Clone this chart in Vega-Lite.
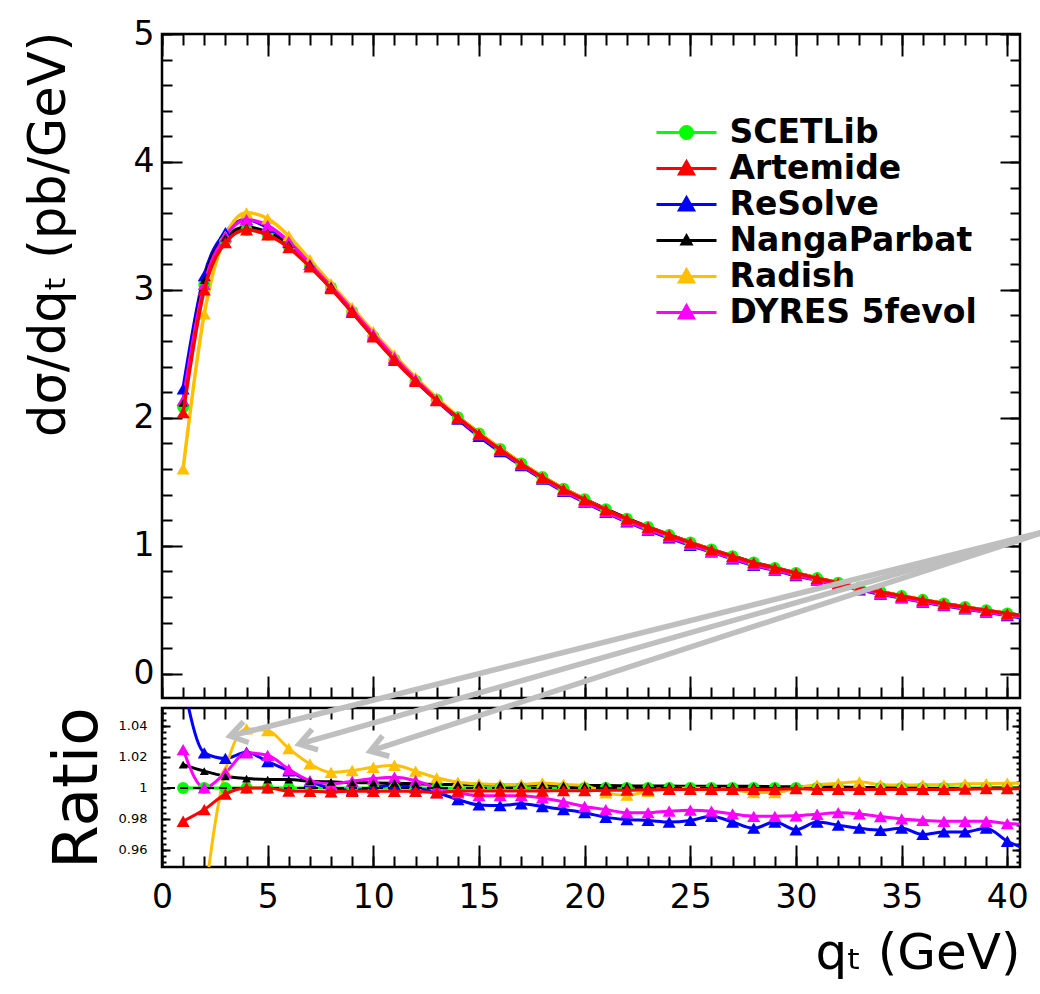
{
 "$schema": "https://vega.github.io/schema/vega-lite/v6.json",
 "background": "white",
 "padding": {"left": 21, "top": 16, "right": 0, "bottom": 0},
 "datasets": {
  "curves": [
   {"m":"SCETLib","q":1,"y":2.085,"r":1},{"m":"SCETLib","q":2,"y":3.043,"r":1},{"m":"SCETLib","q":3,"y":3.383,"r":1},{"m":"SCETLib","q":4,"y":3.47,"r":1},{"m":"SCETLib","q":5,"y":3.43,"r":1},{"m":"SCETLib","q":6,"y":3.337,"r":1},{"m":"SCETLib","q":7,"y":3.187,"r":1},{"m":"SCETLib","q":8,"y":3.018,"r":1},{"m":"SCETLib","q":9,"y":2.83,"r":1},{"m":"SCETLib","q":10,"y":2.638,"r":1},{"m":"SCETLib","q":11,"y":2.455,"r":1},{"m":"SCETLib","q":12,"y":2.29,"r":1},{"m":"SCETLib","q":13,"y":2.142,"r":1},{"m":"SCETLib","q":14,"y":2.005,"r":1},{"m":"SCETLib","q":15,"y":1.877,"r":1},{"m":"SCETLib","q":16,"y":1.756,"r":1},{"m":"SCETLib","q":17,"y":1.643,"r":1},{"m":"SCETLib","q":18,"y":1.538,"r":1},{"m":"SCETLib","q":19,"y":1.445,"r":1},{"m":"SCETLib","q":20,"y":1.363,"r":1},{"m":"SCETLib","q":21,"y":1.285,"r":1},{"m":"SCETLib","q":22,"y":1.212,"r":1},{"m":"SCETLib","q":23,"y":1.146,"r":1},{"m":"SCETLib","q":24,"y":1.085,"r":1},{"m":"SCETLib","q":25,"y":1.026,"r":1},{"m":"SCETLib","q":26,"y":0.97,"r":1},{"m":"SCETLib","q":27,"y":0.918,"r":1},{"m":"SCETLib","q":28,"y":0.869,"r":1},{"m":"SCETLib","q":29,"y":0.827,"r":1},{"m":"SCETLib","q":30,"y":0.787,"r":1},{"m":"SCETLib","q":31,"y":0.747,"r":1},{"m":"SCETLib","q":32,"y":0.71,"r":1},{"m":"SCETLib","q":33,"y":0.674,"r":1},{"m":"SCETLib","q":34,"y":0.64,"r":1},{"m":"SCETLib","q":35,"y":0.608,"r":1},{"m":"SCETLib","q":36,"y":0.577,"r":1},{"m":"SCETLib","q":37,"y":0.548,"r":1},{"m":"SCETLib","q":38,"y":0.521,"r":1},{"m":"SCETLib","q":39,"y":0.495,"r":1},{"m":"SCETLib","q":40,"y":0.47,"r":1},{"m":"SCETLib","q":41,"y":0.447,"r":1},
   {"m":"ReSolve","q":1,"y":2.227,"r":1.068},{"m":"ReSolve","q":2,"y":3.112,"r":1.0226},{"m":"ReSolve","q":3,"y":3.447,"r":1.019},{"m":"ReSolve","q":4,"y":3.55,"r":1.023},{"m":"ReSolve","q":5,"y":3.488,"r":1.017},{"m":"ReSolve","q":6,"y":3.374,"r":1.011},{"m":"ReSolve","q":7,"y":3.2,"r":1.004},{"m":"ReSolve","q":8,"y":3.018,"r":1.0},{"m":"ReSolve","q":9,"y":2.826,"r":0.9985},{"m":"ReSolve","q":10,"y":2.638,"r":1.0},{"m":"ReSolve","q":11,"y":2.46,"r":1.002},{"m":"ReSolve","q":12,"y":2.29,"r":1.0},{"m":"ReSolve","q":13,"y":2.136,"r":0.997},{"m":"ReSolve","q":14,"y":1.99,"r":0.9925},{"m":"ReSolve","q":15,"y":1.856,"r":0.989},{"m":"ReSolve","q":16,"y":1.736,"r":0.9886},{"m":"ReSolve","q":17,"y":1.626,"r":0.9897},{"m":"ReSolve","q":18,"y":1.52,"r":0.988},{"m":"ReSolve","q":19,"y":1.425,"r":0.986},{"m":"ReSolve","q":20,"y":1.341,"r":0.984},{"m":"ReSolve","q":21,"y":1.261,"r":0.981},{"m":"ReSolve","q":22,"y":1.187,"r":0.9796},{"m":"ReSolve","q":23,"y":1.122,"r":0.979},{"m":"ReSolve","q":24,"y":1.061,"r":0.978},{"m":"ReSolve","q":25,"y":1.004,"r":0.979},{"m":"ReSolve","q":26,"y":0.952,"r":0.9817},{"m":"ReSolve","q":27,"y":0.898,"r":0.978},{"m":"ReSolve","q":28,"y":0.846,"r":0.974},{"m":"ReSolve","q":29,"y":0.809,"r":0.978},{"m":"ReSolve","q":30,"y":0.766,"r":0.973},{"m":"ReSolve","q":31,"y":0.731,"r":0.978},{"m":"ReSolve","q":32,"y":0.693,"r":0.976},{"m":"ReSolve","q":33,"y":0.656,"r":0.974},{"m":"ReSolve","q":34,"y":0.623,"r":0.9727},{"m":"ReSolve","q":35,"y":0.592,"r":0.974},{"m":"ReSolve","q":36,"y":0.56,"r":0.97},{"m":"ReSolve","q":37,"y":0.532,"r":0.9716},{"m":"ReSolve","q":38,"y":0.506,"r":0.9716},{"m":"ReSolve","q":39,"y":0.482,"r":0.974},{"m":"ReSolve","q":40,"y":0.454,"r":0.9656},{"m":"ReSolve","q":41,"y":0.429,"r":0.96},
   {"m":"NangaParbat","q":1,"y":2.116,"r":1.015},{"m":"NangaParbat","q":2,"y":3.076,"r":1.0108},{"m":"NangaParbat","q":3,"y":3.408,"r":1.0075},{"m":"NangaParbat","q":4,"y":3.491,"r":1.006},{"m":"NangaParbat","q":5,"y":3.449,"r":1.0054},{"m":"NangaParbat","q":6,"y":3.355,"r":1.0054},{"m":"NangaParbat","q":7,"y":3.201,"r":1.0043},{"m":"NangaParbat","q":8,"y":3.03,"r":1.0039},{"m":"NangaParbat","q":9,"y":2.84,"r":1.0034},{"m":"NangaParbat","q":10,"y":2.646,"r":1.0032},{"m":"NangaParbat","q":11,"y":2.462,"r":1.003},{"m":"NangaParbat","q":12,"y":2.296,"r":1.0026},{"m":"NangaParbat","q":13,"y":2.147,"r":1.0022},{"m":"NangaParbat","q":14,"y":2.009,"r":1.0022},{"m":"NangaParbat","q":15,"y":1.881,"r":1.002},{"m":"NangaParbat","q":16,"y":1.76,"r":1.002},{"m":"NangaParbat","q":17,"y":1.646,"r":1.0018},{"m":"NangaParbat","q":18,"y":1.541,"r":1.0018},{"m":"NangaParbat","q":19,"y":1.447,"r":1.0016},{"m":"NangaParbat","q":20,"y":1.365,"r":1.0015},{"m":"NangaParbat","q":21,"y":1.287,"r":1.0015},{"m":"NangaParbat","q":22,"y":1.214,"r":1.0013},{"m":"NangaParbat","q":23,"y":1.147,"r":1.0012},{"m":"NangaParbat","q":24,"y":1.086,"r":1.0012},{"m":"NangaParbat","q":25,"y":1.027,"r":1.001},{"m":"NangaParbat","q":26,"y":0.971,"r":1.001},{"m":"NangaParbat","q":27,"y":0.919,"r":1.001},{"m":"NangaParbat","q":28,"y":0.87,"r":1.001},{"m":"NangaParbat","q":29,"y":0.828,"r":1.0008},{"m":"NangaParbat","q":30,"y":0.788,"r":1.0008},{"m":"NangaParbat","q":31,"y":0.747,"r":1.0005},{"m":"NangaParbat","q":32,"y":0.71,"r":1.0005},{"m":"NangaParbat","q":33,"y":0.674,"r":1.0003},{"m":"NangaParbat","q":34,"y":0.64,"r":1.0003},{"m":"NangaParbat","q":35,"y":0.608,"r":1.0},{"m":"NangaParbat","q":36,"y":0.577,"r":0.9998},{"m":"NangaParbat","q":37,"y":0.548,"r":0.9995},{"m":"NangaParbat","q":38,"y":0.521,"r":0.9995},{"m":"NangaParbat","q":39,"y":0.495,"r":0.9998},{"m":"NangaParbat","q":40,"y":0.47,"r":1.0},{"m":"NangaParbat","q":41,"y":0.447,"r":1.0},
   {"m":"Radish","q":1,"y":1.601,"r":0.768},{"m":"Radish","q":2,"y":2.812,"r":0.924},{"m":"Radish","q":3,"y":3.42,"r":1.011},{"m":"Radish","q":4,"y":3.602,"r":1.038},{"m":"Radish","q":5,"y":3.557,"r":1.037},{"m":"Radish","q":6,"y":3.422,"r":1.0254},{"m":"Radish","q":7,"y":3.236,"r":1.0155},{"m":"Radish","q":8,"y":3.048,"r":1.01},{"m":"Radish","q":9,"y":2.862,"r":1.0112},{"m":"Radish","q":10,"y":2.673,"r":1.0133},{"m":"Radish","q":11,"y":2.491,"r":1.0146},{"m":"Radish","q":12,"y":2.315,"r":1.0108},{"m":"Radish","q":13,"y":2.156,"r":1.0065},{"m":"Radish","q":14,"y":2.012,"r":1.0037},{"m":"Radish","q":15,"y":1.882,"r":1.0026},{"m":"Radish","q":16,"y":1.76,"r":1.0022},{"m":"Radish","q":17,"y":1.647,"r":1.0022},{"m":"Radish","q":18,"y":1.543,"r":1.0032},{"m":"Radish","q":19,"y":1.448,"r":1.0022},{"m":"Radish","q":20,"y":1.365,"r":1.0015},{"m":"Radish","q":21,"y":1.281,"r":0.9968},{"m":"Radish","q":22,"y":1.206,"r":0.9953},{"m":"Radish","q":23,"y":1.143,"r":0.9978},{"m":"Radish","q":24,"y":1.084,"r":0.9995},{"m":"Radish","q":25,"y":1.026,"r":1.0},{"m":"Radish","q":26,"y":0.97,"r":0.9995},{"m":"Radish","q":27,"y":0.917,"r":0.999},{"m":"Radish","q":28,"y":0.866,"r":0.997},{"m":"Radish","q":29,"y":0.825,"r":0.997},{"m":"Radish","q":30,"y":0.787,"r":1.0},{"m":"Radish","q":31,"y":0.749,"r":1.002},{"m":"Radish","q":32,"y":0.712,"r":1.003},{"m":"Radish","q":33,"y":0.677,"r":1.0039},{"m":"Radish","q":34,"y":0.641,"r":1.002},{"m":"Radish","q":35,"y":0.609,"r":1.0018},{"m":"Radish","q":36,"y":0.578,"r":1.002},{"m":"Radish","q":37,"y":0.549,"r":1.002},{"m":"Radish","q":38,"y":0.522,"r":1.0026},{"m":"Radish","q":39,"y":0.496,"r":1.0028},{"m":"Radish","q":40,"y":0.471,"r":1.003},{"m":"Radish","q":41,"y":0.448,"r":1.003},
   {"m":"DYRES 5fevol","q":1,"y":2.137,"r":1.0247},{"m":"DYRES 5fevol","q":2,"y":3.043,"r":1.0},{"m":"DYRES 5fevol","q":3,"y":3.416,"r":1.0097},{"m":"DYRES 5fevol","q":4,"y":3.548,"r":1.0226},{"m":"DYRES 5fevol","q":5,"y":3.502,"r":1.021},{"m":"DYRES 5fevol","q":6,"y":3.377,"r":1.012},{"m":"DYRES 5fevol","q":7,"y":3.202,"r":1.0047},{"m":"DYRES 5fevol","q":8,"y":3.026,"r":1.0026},{"m":"DYRES 5fevol","q":9,"y":2.842,"r":1.0043},{"m":"DYRES 5fevol","q":10,"y":2.654,"r":1.006},{"m":"DYRES 5fevol","q":11,"y":2.472,"r":1.0069},{"m":"DYRES 5fevol","q":12,"y":2.301,"r":1.0047},{"m":"DYRES 5fevol","q":13,"y":2.142,"r":1.0},{"m":"DYRES 5fevol","q":14,"y":1.999,"r":0.9968},{"m":"DYRES 5fevol","q":15,"y":1.868,"r":0.995},{"m":"DYRES 5fevol","q":16,"y":1.747,"r":0.995},{"m":"DYRES 5fevol","q":17,"y":1.635,"r":0.995},{"m":"DYRES 5fevol","q":18,"y":1.528,"r":0.9935},{"m":"DYRES 5fevol","q":19,"y":1.432,"r":0.991},{"m":"DYRES 5fevol","q":20,"y":1.347,"r":0.988},{"m":"DYRES 5fevol","q":21,"y":1.267,"r":0.986},{"m":"DYRES 5fevol","q":22,"y":1.193,"r":0.984},{"m":"DYRES 5fevol","q":23,"y":1.128,"r":0.984},{"m":"DYRES 5fevol","q":24,"y":1.069,"r":0.985},{"m":"DYRES 5fevol","q":25,"y":1.011,"r":0.9856},{"m":"DYRES 5fevol","q":26,"y":0.955,"r":0.985},{"m":"DYRES 5fevol","q":27,"y":0.903,"r":0.9832},{"m":"DYRES 5fevol","q":28,"y":0.853,"r":0.9817},{"m":"DYRES 5fevol","q":29,"y":0.812,"r":0.9817},{"m":"DYRES 5fevol","q":30,"y":0.773,"r":0.982},{"m":"DYRES 5fevol","q":31,"y":0.734,"r":0.983},{"m":"DYRES 5fevol","q":32,"y":0.699,"r":0.984},{"m":"DYRES 5fevol","q":33,"y":0.663,"r":0.9832},{"m":"DYRES 5fevol","q":34,"y":0.628,"r":0.9815},{"m":"DYRES 5fevol","q":35,"y":0.596,"r":0.98},{"m":"DYRES 5fevol","q":36,"y":0.565,"r":0.979},{"m":"DYRES 5fevol","q":37,"y":0.536,"r":0.9785},{"m":"DYRES 5fevol","q":38,"y":0.51,"r":0.9785},{"m":"DYRES 5fevol","q":39,"y":0.484,"r":0.9785},{"m":"DYRES 5fevol","q":40,"y":0.459,"r":0.977},{"m":"DYRES 5fevol","q":41,"y":0.436,"r":0.9765},
   {"m":"Artemide","q":1,"y":2.04,"r":0.9785},{"m":"Artemide","q":2,"y":3.0,"r":0.986},{"m":"Artemide","q":3,"y":3.369,"r":0.996},{"m":"Artemide","q":4,"y":3.47,"r":1.0},{"m":"Artemide","q":5,"y":3.43,"r":1.0},{"m":"Artemide","q":6,"y":3.33,"r":0.998},{"m":"Artemide","q":7,"y":3.18,"r":0.9978},{"m":"Artemide","q":8,"y":3.01,"r":0.9975},{"m":"Artemide","q":9,"y":2.824,"r":0.9978},{"m":"Artemide","q":10,"y":2.632,"r":0.9978},{"m":"Artemide","q":11,"y":2.45,"r":0.9978},{"m":"Artemide","q":12,"y":2.285,"r":0.9978},{"m":"Artemide","q":13,"y":2.135,"r":0.9968},{"m":"Artemide","q":14,"y":2.001,"r":0.998},{"m":"Artemide","q":15,"y":1.873,"r":0.998},{"m":"Artemide","q":16,"y":1.752,"r":0.998},{"m":"Artemide","q":17,"y":1.64,"r":0.998},{"m":"Artemide","q":18,"y":1.535,"r":0.998},{"m":"Artemide","q":19,"y":1.442,"r":0.9982},{"m":"Artemide","q":20,"y":1.361,"r":0.9982},{"m":"Artemide","q":21,"y":1.283,"r":0.9985},{"m":"Artemide","q":22,"y":1.21,"r":0.9985},{"m":"Artemide","q":23,"y":1.145,"r":0.9988},{"m":"Artemide","q":24,"y":1.084,"r":0.999},{"m":"Artemide","q":25,"y":1.025,"r":0.999},{"m":"Artemide","q":26,"y":0.969,"r":0.999},{"m":"Artemide","q":27,"y":0.917,"r":0.999},{"m":"Artemide","q":28,"y":0.868,"r":0.999},{"m":"Artemide","q":29,"y":0.826,"r":0.999},{"m":"Artemide","q":30,"y":0.787,"r":0.9995},{"m":"Artemide","q":31,"y":0.746,"r":0.999},{"m":"Artemide","q":32,"y":0.709,"r":0.999},{"m":"Artemide","q":33,"y":0.673,"r":0.999},{"m":"Artemide","q":34,"y":0.639,"r":0.999},{"m":"Artemide","q":35,"y":0.607,"r":0.999},{"m":"Artemide","q":36,"y":0.576,"r":0.999},{"m":"Artemide","q":37,"y":0.547,"r":0.999},{"m":"Artemide","q":38,"y":0.521,"r":0.9992},{"m":"Artemide","q":39,"y":0.495,"r":0.9995},{"m":"Artemide","q":40,"y":0.47,"r":0.9995},{"m":"Artemide","q":41,"y":0.447,"r":0.9995}
  ],
  "shafts": [
   {"a":1,"q":41.9,"r":1.1656,"q2":3.22,"r2":1.0334},
   {"a":2,"q":41.9,"r":1.1656,"q2":6.49,"r2":1.0282},
   {"a":3,"q":41.9,"r":1.1656,"q2":9.85,"r2":1.0237}
  ],
  "heads": [
   {"a":1,"q":3.22,"r":1.0334},
   {"a":2,"q":6.49,"r":1.0282},
   {"a":3,"q":9.85,"r":1.0237}
  ],
  "unity": [{"r":1}]
 },
 "vconcat": [
  {
   "width": 858,
   "height": 664,
   "data": {"name": "curves"},
   "resolve": {"axis": {"x": "independent", "y": "independent"}},
   "layer": [
    {
     "transform": [{"filter": "datum.m !== 'Artemide'"}],
     "mark": {"type": "line", "interpolate": "monotone", "strokeWidth": 3.5, "clip": true},
     "encoding": {
      "x": {"field": "q", "type": "quantitative", "scale": {"domain": [0, 40.6], "nice": false, "zero": false},
            "axis": {"orient": "bottom", "values": [0,5,10,15,20,25,30,35,40], "tickSize": -22, "labels": false, "title": null}},
      "y": {"field": "y", "type": "quantitative", "scale": {"domain": [-0.19, 5], "nice": false, "zero": false},
            "axis": {"orient": "left", "values": [0,1,2,3,4,5], "tickSize": -20, "labelFontSize": 33, "labelPadding": 28, "format": "~g",
                     "title": "dσ/dqₜ (pb/GeV)", "titleFontSize": 51, "titleX": -98, "titleY": -3, "titleAngle": -90, "titleAlign": "right", "titleBaseline": "alphabetic", "titleAnchor": null}},
      "color": {"field": "m", "type": "nominal",
                "scale": {"domain": ["SCETLib","Artemide","ReSolve","NangaParbat","Radish","DYRES 5fevol"], "range": ["#00ff00","#ff0000","#0000ff","#000000","#ffc000","#ff00ff"]},
                "legend": {"orient": "none", "legendX": 523, "legendY": 82, "title": null, "padding": 0, "labelFont": "DejaVu Sans", "labelFontWeight": "bold", "labelFontSize": 33, "labelColor": "black", "labelLimit": 0, "symbolSize": 900, "symbolStrokeWidth": 3, "rowPadding": 2, "labelOffset": 11.5,
                           "encode": {"symbols": {"update": {
                             "shape": {"signal": "datum.value === 'SCETLib' ? 'M-3,0L1,0M-0.6,0A0.4,0.4,0,1,1,-1.4,0A0.4,0.4,0,1,1,-0.6,0Z' : (datum.value === 'NangaParbat' ? 'M-3,0L1,0M-1,-0.3L-0.7,0.24L-1.3,0.24Z' : 'M-3,0L1,0M-1,-0.45L-0.53,0.37L-1.47,0.37Z')"},
                             "fill": {"scale": "color", "field": "value"},
                             "stroke": {"scale": "color", "field": "value"},
                             "strokeWidth": {"value": 3},
                             "opacity": {"value": 1},
                             "fillOpacity": {"value": 1},
                             "strokeOpacity": {"value": 1},
                             "size": {"value": 900}}}}}}
     }
    },
    {
     "transform": [{"filter": "datum.m === 'SCETLib'"}],
     "mark": {"type": "point", "shape": "circle", "filled": true, "size": 144, "opacity": 1, "clip": true},
     "encoding": {
      "x": {"field": "q", "type": "quantitative", "scale": {"domain": [0, 40.6], "nice": false, "zero": false},
            "axis": {"orient": "bottom", "values": [0,1,2,3,4,5,6,7,8,9,10,11,12,13,14,15,16,17,18,19,20,21,22,23,24,25,26,27,28,29,30,31,32,33,34,35,36,37,38,39,40], "tickSize": -11, "labels": false, "title": null}},
      "y": {"field": "y", "type": "quantitative", "scale": {"domain": [-0.19, 5], "nice": false, "zero": false},
            "axis": {"orient": "left", "values": [0,0.2,0.4,0.6,0.8,1,1.2,1.4,1.6,1.8,2,2.2,2.4,2.6,2.8,3,3.2,3.4,3.6,3.8,4,4.2,4.4,4.6,4.8,5], "tickSize": -10, "labels": false, "title": null}},
      "color": {"field": "m", "type": "nominal",
                "scale": {"domain": ["SCETLib","Artemide","ReSolve","NangaParbat","Radish","DYRES 5fevol"], "range": ["#00ff00","#ff0000","#0000ff","#000000","#ffc000","#ff00ff"]}}
     }
    },
    {
     "transform": [{"filter": "datum.m === 'ReSolve' || datum.m === 'Radish' || datum.m === 'DYRES 5fevol'"}],
     "mark": {"type": "point", "shape": "triangle-up", "filled": true, "size": 170, "opacity": 1, "clip": true},
     "encoding": {
      "x": {"field": "q", "type": "quantitative", "scale": {"domain": [0, 40.6], "nice": false, "zero": false},
            "axis": {"orient": "top", "values": [0,5,10,15,20,25,30,35,40], "tickSize": -22, "labels": false, "title": null}},
      "y": {"field": "y", "type": "quantitative", "scale": {"domain": [-0.19, 5], "nice": false, "zero": false},
            "axis": {"orient": "right", "values": [0,1,2,3,4,5], "tickSize": -20, "labels": false, "title": null}},
      "color": {"field": "m", "type": "nominal",
                "scale": {"domain": ["SCETLib","Artemide","ReSolve","NangaParbat","Radish","DYRES 5fevol"], "range": ["#00ff00","#ff0000","#0000ff","#000000","#ffc000","#ff00ff"]}}
     }
    },
    {
     "transform": [{"filter": "datum.m === 'NangaParbat'"}],
     "mark": {"type": "point", "shape": "triangle-up", "filled": true, "size": 80, "opacity": 1, "clip": true},
     "encoding": {
      "x": {"field": "q", "type": "quantitative", "scale": {"domain": [0, 40.6], "nice": false, "zero": false},
            "axis": {"orient": "top", "values": [0,1,2,3,4,5,6,7,8,9,10,11,12,13,14,15,16,17,18,19,20,21,22,23,24,25,26,27,28,29,30,31,32,33,34,35,36,37,38,39,40], "tickSize": -11, "labels": false, "title": null}},
      "y": {"field": "y", "type": "quantitative", "scale": {"domain": [-0.19, 5], "nice": false, "zero": false},
            "axis": {"orient": "right", "values": [0,0.2,0.4,0.6,0.8,1,1.2,1.4,1.6,1.8,2,2.2,2.4,2.6,2.8,3,3.2,3.4,3.6,3.8,4,4.2,4.4,4.6,4.8,5], "tickSize": -10, "labels": false, "title": null}},
      "color": {"field": "m", "type": "nominal",
                "scale": {"domain": ["SCETLib","Artemide","ReSolve","NangaParbat","Radish","DYRES 5fevol"], "range": ["#00ff00","#ff0000","#0000ff","#000000","#ffc000","#ff00ff"]}}
     }
    },
    {
     "transform": [{"filter": "datum.m === 'Artemide'"}],
     "mark": {"type": "line", "interpolate": "monotone", "strokeWidth": 3.5, "clip": true},
     "encoding": {
      "x": {"field": "q", "type": "quantitative", "scale": {"domain": [0, 40.6], "nice": false, "zero": false}, "axis": null},
      "y": {"field": "y", "type": "quantitative", "scale": {"domain": [-0.19, 5], "nice": false, "zero": false}, "axis": null},
      "color": {"field": "m", "type": "nominal",
                "scale": {"domain": ["SCETLib","Artemide","ReSolve","NangaParbat","Radish","DYRES 5fevol"], "range": ["#00ff00","#ff0000","#0000ff","#000000","#ffc000","#ff00ff"]}}
     }
    },
    {
     "transform": [{"filter": "datum.m === 'Artemide'"}],
     "mark": {"type": "point", "shape": "triangle-up", "filled": true, "size": 170, "opacity": 1, "clip": true},
     "encoding": {
      "x": {"field": "q", "type": "quantitative", "scale": {"domain": [0, 40.6], "nice": false, "zero": false}, "axis": null},
      "y": {"field": "y", "type": "quantitative", "scale": {"domain": [-0.19, 5], "nice": false, "zero": false}, "axis": null},
      "color": {"field": "m", "type": "nominal",
                "scale": {"domain": ["SCETLib","Artemide","ReSolve","NangaParbat","Radish","DYRES 5fevol"], "range": ["#00ff00","#ff0000","#0000ff","#000000","#ffc000","#ff00ff"]}}
     }
    }
   ]
  },
  {
   "width": 858,
   "height": 159,
   "resolve": {"axis": {"x": "independent", "y": "independent"}},
   "layer": [
    {
     "data": {"name": "curves"},
     "transform": [{"filter": "datum.m !== 'Artemide'"}],
     "mark": {"type": "line", "interpolate": "monotone", "strokeWidth": 3, "clip": true},
     "encoding": {
      "x": {"field": "q", "type": "quantitative", "scale": {"domain": [0, 40.6], "nice": false, "zero": false},
            "axis": {"orient": "bottom", "values": [0,5,10,15,20,25,30,35,40], "tickSize": -22, "labelFontSize": 33, "labelPadding": 36, "format": "~g",
                     "title": "qₜ (GeV)", "titleFontSize": 50, "titleX": 858, "titleY": 101, "titleAlign": "right", "titleBaseline": "alphabetic", "titleAnchor": null}},
      "y": {"field": "r", "type": "quantitative", "scale": {"domain": [0.949, 1.0515], "nice": false, "zero": false},
            "axis": {"orient": "left", "values": [0.96,0.98,1,1.02,1.04], "tickSize": -8, "labelFontSize": 13, "labelPadding": 23, "format": "~g",
                     "title": "Ratio", "titleFontSize": 63, "titleX": -66, "titleY": 79.5, "titleAngle": -90, "titleAlign": "center", "titleBaseline": "alphabetic", "titleAnchor": null}},
      "color": {"field": "m", "type": "nominal",
                "scale": {"domain": ["SCETLib","Artemide","ReSolve","NangaParbat","Radish","DYRES 5fevol"], "range": ["#00ff00","#ff0000","#0000ff","#000000","#ffc000","#ff00ff"]}, "legend": null}
     }
    },
    {
     "data": {"name": "curves"},
     "transform": [{"filter": "datum.m === 'SCETLib'"}],
     "mark": {"type": "point", "shape": "circle", "filled": true, "size": 144, "opacity": 1, "clip": true},
     "encoding": {
      "x": {"field": "q", "type": "quantitative", "scale": {"domain": [0, 40.6], "nice": false, "zero": false},
            "axis": {"orient": "bottom", "values": [0,1,2,3,4,5,6,7,8,9,10,11,12,13,14,15,16,17,18,19,20,21,22,23,24,25,26,27,28,29,30,31,32,33,34,35,36,37,38,39,40], "tickSize": -11, "labels": false, "title": null}},
      "y": {"field": "r", "type": "quantitative", "scale": {"domain": [0.949, 1.0515], "nice": false, "zero": false},
            "axis": {"orient": "left", "values": [0.952,0.956,0.96,0.964,0.968,0.972,0.976,0.98,0.984,0.988,0.992,0.996,1,1.004,1.008,1.012,1.016,1.02,1.024,1.028,1.032,1.036,1.04,1.044,1.048], "tickSize": -4, "labels": false, "title": null}},
      "color": {"field": "m", "type": "nominal",
                "scale": {"domain": ["SCETLib","Artemide","ReSolve","NangaParbat","Radish","DYRES 5fevol"], "range": ["#00ff00","#ff0000","#0000ff","#000000","#ffc000","#ff00ff"]}, "legend": null}
     }
    },
    {
     "data": {"name": "unity"},
     "mark": {"type": "rule", "color": "black", "strokeWidth": 2, "strokeDash": [8, 5]},
     "encoding": {
      "y": {"field": "r", "type": "quantitative", "scale": {"domain": [0.949, 1.0515], "nice": false, "zero": false}, "axis": null}
     }
    },
    {
     "data": {"name": "curves"},
     "transform": [{"filter": "datum.m === 'ReSolve' || datum.m === 'Radish' || datum.m === 'DYRES 5fevol'"}],
     "mark": {"type": "point", "shape": "triangle-up", "filled": true, "size": 170, "opacity": 1, "clip": true},
     "encoding": {
      "x": {"field": "q", "type": "quantitative", "scale": {"domain": [0, 40.6], "nice": false, "zero": false},
            "axis": {"orient": "top", "values": [0,5,10,15,20,25,30,35,40], "tickSize": -22, "labels": false, "title": null}},
      "y": {"field": "r", "type": "quantitative", "scale": {"domain": [0.949, 1.0515], "nice": false, "zero": false},
            "axis": {"orient": "right", "values": [0.96,0.98,1,1.02,1.04], "tickSize": -8, "labels": false, "title": null}},
      "color": {"field": "m", "type": "nominal",
                "scale": {"domain": ["SCETLib","Artemide","ReSolve","NangaParbat","Radish","DYRES 5fevol"], "range": ["#00ff00","#ff0000","#0000ff","#000000","#ffc000","#ff00ff"]}, "legend": null}
     }
    },
    {
     "data": {"name": "curves"},
     "transform": [{"filter": "datum.m === 'NangaParbat'"}],
     "mark": {"type": "point", "shape": "triangle-up", "filled": true, "size": 80, "opacity": 1, "clip": true},
     "encoding": {
      "x": {"field": "q", "type": "quantitative", "scale": {"domain": [0, 40.6], "nice": false, "zero": false},
            "axis": {"orient": "top", "values": [0,1,2,3,4,5,6,7,8,9,10,11,12,13,14,15,16,17,18,19,20,21,22,23,24,25,26,27,28,29,30,31,32,33,34,35,36,37,38,39,40], "tickSize": -11, "labels": false, "title": null}},
      "y": {"field": "r", "type": "quantitative", "scale": {"domain": [0.949, 1.0515], "nice": false, "zero": false},
            "axis": {"orient": "right", "values": [0.952,0.956,0.96,0.964,0.968,0.972,0.976,0.98,0.984,0.988,0.992,0.996,1,1.004,1.008,1.012,1.016,1.02,1.024,1.028,1.032,1.036,1.04,1.044,1.048], "tickSize": -4, "labels": false, "title": null}},
      "color": {"field": "m", "type": "nominal",
                "scale": {"domain": ["SCETLib","Artemide","ReSolve","NangaParbat","Radish","DYRES 5fevol"], "range": ["#00ff00","#ff0000","#0000ff","#000000","#ffc000","#ff00ff"]}, "legend": null}
     }
    },
    {
     "data": {"name": "curves"},
     "transform": [{"filter": "datum.m === 'Artemide'"}],
     "mark": {"type": "line", "interpolate": "monotone", "strokeWidth": 3, "clip": true},
     "encoding": {
      "x": {"field": "q", "type": "quantitative", "scale": {"domain": [0, 40.6], "nice": false, "zero": false}, "axis": null},
      "y": {"field": "r", "type": "quantitative", "scale": {"domain": [0.949, 1.0515], "nice": false, "zero": false}, "axis": null},
      "color": {"field": "m", "type": "nominal",
                "scale": {"domain": ["SCETLib","Artemide","ReSolve","NangaParbat","Radish","DYRES 5fevol"], "range": ["#00ff00","#ff0000","#0000ff","#000000","#ffc000","#ff00ff"]}, "legend": null}
     }
    },
    {
     "data": {"name": "curves"},
     "transform": [{"filter": "datum.m === 'Artemide'"}],
     "mark": {"type": "point", "shape": "triangle-up", "filled": true, "size": 170, "opacity": 1, "clip": true},
     "encoding": {
      "x": {"field": "q", "type": "quantitative", "scale": {"domain": [0, 40.6], "nice": false, "zero": false}, "axis": null},
      "y": {"field": "r", "type": "quantitative", "scale": {"domain": [0.949, 1.0515], "nice": false, "zero": false}, "axis": null},
      "color": {"field": "m", "type": "nominal",
                "scale": {"domain": ["SCETLib","Artemide","ReSolve","NangaParbat","Radish","DYRES 5fevol"], "range": ["#00ff00","#ff0000","#0000ff","#000000","#ffc000","#ff00ff"]}, "legend": null}
     }
    },
    {
     "data": {"name": "shafts"},
     "mark": {"type": "rule", "color": "#bfbfbf", "strokeWidth": 5.5, "clip": false},
     "encoding": {
      "x": {"field": "q", "type": "quantitative", "scale": {"domain": [0, 40.6], "nice": false, "zero": false}, "axis": null},
      "y": {"field": "r", "type": "quantitative", "scale": {"domain": [0.949, 1.0515], "nice": false, "zero": false}, "axis": null},
      "x2": {"field": "q2"},
      "y2": {"field": "r2"}
     }
    },
    {
     "data": {"name": "heads"},
     "mark": {"type": "point", "shape": "M1,-0.65L0,0L1,0.65", "filled": false, "size": 1100, "color": "#bfbfbf", "strokeWidth": 5.5, "opacity": 1, "clip": false},
     "encoding": {
      "x": {"field": "q", "type": "quantitative", "scale": {"domain": [0, 40.6], "nice": false, "zero": false}, "axis": null},
      "y": {"field": "r", "type": "quantitative", "scale": {"domain": [0.949, 1.0515], "nice": false, "zero": false}, "axis": null},
      "angle": {"field": "a", "type": "quantitative", "scale": {"domain": [1, 3], "range": [-14.1, -18.0]}, "legend": null}
     }
    }
   ]
  }
 ],
 "spacing": 10,
 "bounds": "flush",
 "resolve": {"legend": {"color": "independent"}},
 "config": {
  "font": "DejaVu Sans",
  "view": {"stroke": "black", "strokeWidth": 2.5, "fill": null},
  "axis": {"grid": false, "domain": false, "ticks": true, "tickColor": "black", "tickWidth": 2, "labelColor": "black", "labelFont": "DejaVu Sans", "titleFont": "DejaVu Sans", "titleColor": "black", "titleFontWeight": "normal", "labelFlush": false, "labelOverlap": false}
 }
}
